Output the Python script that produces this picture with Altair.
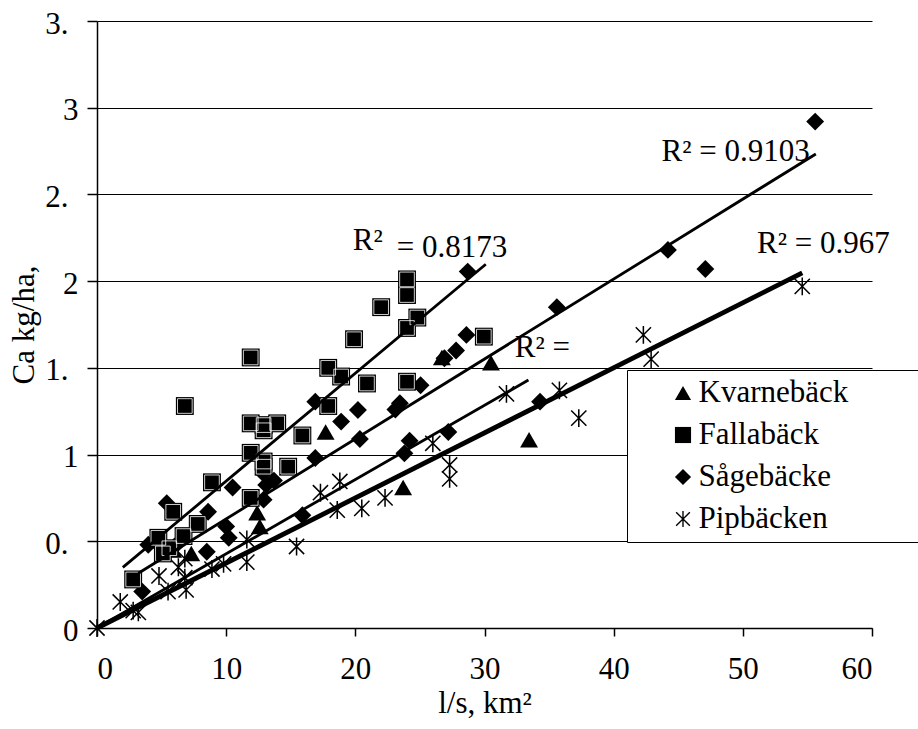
import altair as alt
import pandas as pd

# ---- series ----------------------------------------------------------------
series_names = ["Kvarnebäck", "Fallabäck", "Sågebäcke", "Pipbäcken"]

kvarne_x = [5.9, 7.3, 12.4, 12.6, 17.7, 23.7, 26.7, 30.5, 33.45]
kvarne_y = [0.45, 0.43, 0.665, 0.585, 1.13, 0.81, 1.56, 1.53, 1.085]

falla_x = [2.8, 4.75, 5.1, 5.6, 6.7, 5.9, 7.8, 6.8, 8.9, 11.9, 11.9, 12.9, 12.9,
           14.8, 11.9, 12.9, 12.9, 13.95, 15.9, 11.9, 17.9, 17.9, 18.9, 20.9,
           19.9, 22.0, 24.0, 24.0, 24.0, 24.0, 24.8, 29.95]
falla_y = [0.28, 0.52, 0.43, 0.46, 0.53, 0.67, 0.60, 1.28, 0.84, 0.75, 1.01, 0.96,
           0.93, 0.93, 1.18, 1.17, 1.14, 1.18, 1.11, 1.56, 1.28, 1.50, 1.45, 1.41,
           1.665, 1.85, 1.42, 1.73, 1.92, 2.01, 1.79, 1.68]

sage_x = [3.5, 3.97, 4.9, 6.0, 5.4, 8.5, 8.6, 10.0, 10.2, 10.5, 12.9, 12.9, 13.7,
          13.1, 15.9, 16.9, 16.9, 18.9, 20.2, 20.35, 23.1, 23.45, 23.8, 24.2,
          25.05, 26.9, 27.2, 27.8, 28.6, 28.7, 34.3, 35.6, 44.2, 47.1, 55.6]
sage_y = [0.21, 0.48, 0.47, 0.47, 0.72, 0.44, 0.67, 0.585, 0.52, 0.81, 0.74, 0.89,
          0.85, 0.825, 0.65, 0.98, 1.305, 1.19, 1.257, 1.09, 1.26, 1.296, 1.007,
          1.08, 1.40, 1.555, 1.13, 1.60, 1.69, 2.055, 1.305, 1.85, 2.18, 2.07, 2.92]

pip_x = [0, 1.8, 2.8, 3.2, 4.8, 5.5, 6.3, 6.8, 6.9, 6.8, 8.9, 9.8, 11.6, 11.6,
         15.45, 17.3, 18.8, 18.6, 20.5, 22.3, 26.0, 27.3, 27.3, 31.7, 35.8, 37.3,
         42.3, 42.9, 54.6]
pip_y = [0, 0.15, 0.10, 0.09, 0.30, 0.21, 0.35, 0.29, 0.22, 0.40, 0.34, 0.37, 0.51,
         0.38, 0.47, 0.78, 0.845, 0.68, 0.69, 0.75, 1.065, 0.94, 0.86, 1.35, 1.37,
         1.21, 1.69, 1.55, 1.97]

# linear trend lines (y = intercept + slope * x) over their x range
trend_x_start = [0.0, 2.0, 3.2, 0.0]
trend_x_end = [33.4, 30.1, 55.65, 54.6]
trend_intercept = [0.0, 0.225, 0.168, 0.0]
trend_slope = [0.0428, 0.0622, 0.0461, 0.0375]

# R² annotations
r2_text = ["R²", "= 0.8173", "R² = 0.9103", "R² = 0.967", "R²  ="]
r2_x = [19.8, 23.2, 43.7, 51.1, 32.35]
r2_y = [2.18, 2.14, 2.695, 2.16, 1.561]

# axes
x_ticks = [0, 10, 20, 30, 40, 50, 60]
y_ticks = [0, 0.5, 1, 1.5, 2, 2.5, 3, 3.5]
y_tick_labels = ["0", "0.", "1", "1.", "2", "2.", "3", "3."]

# ---- tables ----------------------------------------------------------------
points = pd.concat([
    pd.DataFrame({"x": xs, "y": ys, "series": name})
    for name, xs, ys in zip(series_names,
                            [kvarne_x, falla_x, sage_x, pip_x],
                            [kvarne_y, falla_y, sage_y, pip_y])
], ignore_index=True)

trend = pd.concat([
    pd.DataFrame({"x": [x0, x1], "y": [a + b * x0, a + b * x1], "series": name})
    for name, x0, x1, a, b in zip(series_names, trend_x_start, trend_x_end,
                                  trend_intercept, trend_slope)
], ignore_index=True)

labels = pd.DataFrame({"x": r2_x, "y": r2_y, "text": r2_text})

# ---- styling ---------------------------------------------------------------
FONT = "Liberation Serif"
FS = 31
# six-armed asterisk built from three thin filled bars
ASTERISK = ("M-0.085,-1L0.085,-1L0.085,1L-0.085,1Z"
            "M-0.79,-0.91L0.91,0.79L0.79,0.91L-0.91,-0.79Z"
            "M-0.91,0.79L0.79,-0.91L0.91,-0.79L-0.79,0.91Z")
shape_scale = alt.Scale(domain=series_names,
                        range=["triangle-up", "square", "diamond", ASTERISK])

label_expr = " : ".join(
    f"datum.value == {v} ? '{lab}'" for v, lab in zip(y_ticks, y_tick_labels)
) + " : ''"

x_enc = alt.X("x:Q",
              scale=alt.Scale(domain=[0, 60], nice=False, zero=False),
              axis=alt.Axis(values=x_ticks, grid=False, tickSize=8,
                            labelPadding=18, title="l/s, km²", titlePadding=4))
y_enc = alt.Y("y:Q",
              scale=alt.Scale(domain=[0, 3.5], nice=False, zero=False),
              axis=alt.Axis(values=y_ticks, grid=True, tickSize=10,
                            labelExpr=label_expr,
                            labelPadding={"condition": {"test": "datum.value % 1 != 0",
                                                        "value": 19},
                                          "value": 9},
                            labelOffset=3,
                            title="Ca kg/ha,", titlePadding=4))

legend = alt.Legend(
    title="\u00a0", titleOrient="right", titlePadding=80,
    titleFont=FONT, titleFontSize=FS,
    orient="none", legendX=530, legendY=349,
    fillColor="white", strokeColor="black",
    padding=7.5, rowPadding=10,
    symbolOffset=33, labelOffset=0,
    symbolSize=260, symbolFillColor="black",
    labelFont=FONT, labelFontSize=FS, labelColor="black",
)

point_layer = alt.Chart(points).mark_point(
    filled=True, color="black", opacity=1, size=320
).encode(
    x=x_enc, y=y_enc,
    shape=alt.Shape("series:N", scale=shape_scale, legend=legend, sort=series_names),
)

# thin white inset line of the square markers
inset_layer = alt.Chart(points).transform_filter(
    alt.datum.series == "Fallabäck"
).mark_point(
    shape="square", filled=False, stroke="white", strokeWidth=0.8, opacity=1, size=215
).encode(x=x_enc, y=y_enc)

trend_layer = alt.Chart(trend).transform_filter(
    alt.datum.series != "Pipbäcken"
).mark_line(color="black", strokeWidth=2.8).encode(
    x=x_enc, y=y_enc, detail="series:N",
)

trend_thick_layer = alt.Chart(trend).transform_filter(
    alt.datum.series == "Pipbäcken"
).mark_line(color="black", strokeWidth=4.8).encode(
    x=x_enc, y=y_enc, detail="series:N",
)

label_layer = alt.Chart(labels).mark_text(
    align="left", baseline="alphabetic", font=FONT, fontSize=FS, color="black"
).encode(x=x_enc, y=y_enc, text="text:N")

chart = alt.layer(point_layer, inset_layer, trend_layer, trend_thick_layer,
                  label_layer).properties(
    width=775, height=607,
    autosize=alt.AutoSizeParams(type="none"),
    padding={"left": 97, "top": 21, "right": 46, "bottom": 101},
    background="white",
).configure_view(stroke=None).configure_axis(
    domainColor="black", domainWidth=1.5, tickColor="black", tickWidth=1.5,
    gridColor="black", gridWidth=1.2, gridOpacity=1,
    labelFont=FONT, labelFontSize=FS, labelColor="black",
    titleFont=FONT, titleFontSize=FS, titleColor="black", titleFontWeight="normal",
)

chart.save("out.html", embed_options={"renderer": "svg", "actions": False})
